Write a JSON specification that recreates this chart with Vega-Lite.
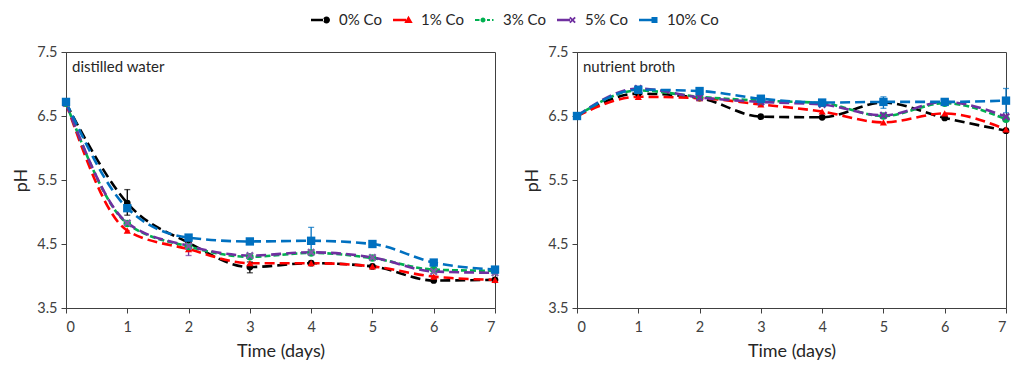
{
  "$schema": "https://vega.github.io/schema/vega-lite/v6.json",
  "background": "white",
  "padding": {"left": 12, "top": 9, "right": 0, "bottom": 0},
  "bounds": "flush",
  "spacing": 82,
  "config": {
    "font": "Lato",
    "view": {"stroke": "#404040", "strokeWidth": 1},
    "axis": {"grid": false, "domainColor": "#404040", "tickColor": "#404040", "labelColor": "#404040", "titleColor": "#262626", "labelFontSize": 14.5, "titleFontSize": 18, "titleFontWeight": "normal", "tickSize": 5, "labelPadding": 4, "labelFont": "Lato", "titleFont": "Lato"},
    "axisX": {"labelPadding": 7, "titlePadding": 9}
  },
  "data": {"values": [
    {"medium": "distilled water", "day": 0, "series": "0% Co", "ph": 6.70},
    {"medium": "distilled water", "day": 1, "series": "0% Co", "ph": 5.14, "lo": 4.95, "hi": 5.35},
    {"medium": "distilled water", "day": 2, "series": "0% Co", "ph": 4.52},
    {"medium": "distilled water", "day": 3, "series": "0% Co", "ph": 4.14, "lo": 4.05, "hi": 4.22},
    {"medium": "distilled water", "day": 4, "series": "0% Co", "ph": 4.20},
    {"medium": "distilled water", "day": 5, "series": "0% Co", "ph": 4.15},
    {"medium": "distilled water", "day": 6, "series": "0% Co", "ph": 3.93},
    {"medium": "distilled water", "day": 7, "series": "0% Co", "ph": 3.94},
    {"medium": "distilled water", "day": 0, "series": "1% Co", "ph": 6.70},
    {"medium": "distilled water", "day": 1, "series": "1% Co", "ph": 4.71},
    {"medium": "distilled water", "day": 2, "series": "1% Co", "ph": 4.42},
    {"medium": "distilled water", "day": 3, "series": "1% Co", "ph": 4.20},
    {"medium": "distilled water", "day": 4, "series": "1% Co", "ph": 4.20},
    {"medium": "distilled water", "day": 5, "series": "1% Co", "ph": 4.15},
    {"medium": "distilled water", "day": 6, "series": "1% Co", "ph": 3.99},
    {"medium": "distilled water", "day": 7, "series": "1% Co", "ph": 3.94},
    {"medium": "distilled water", "day": 0, "series": "3% Co", "ph": 6.70},
    {"medium": "distilled water", "day": 1, "series": "3% Co", "ph": 4.82},
    {"medium": "distilled water", "day": 2, "series": "3% Co", "ph": 4.46},
    {"medium": "distilled water", "day": 3, "series": "3% Co", "ph": 4.30},
    {"medium": "distilled water", "day": 4, "series": "3% Co", "ph": 4.36},
    {"medium": "distilled water", "day": 5, "series": "3% Co", "ph": 4.28},
    {"medium": "distilled water", "day": 6, "series": "3% Co", "ph": 4.10},
    {"medium": "distilled water", "day": 7, "series": "3% Co", "ph": 4.08},
    {"medium": "distilled water", "day": 0, "series": "5% Co", "ph": 6.70},
    {"medium": "distilled water", "day": 1, "series": "5% Co", "ph": 4.83},
    {"medium": "distilled water", "day": 2, "series": "5% Co", "ph": 4.47, "lo": 4.32, "hi": 4.62},
    {"medium": "distilled water", "day": 3, "series": "5% Co", "ph": 4.32},
    {"medium": "distilled water", "day": 4, "series": "5% Co", "ph": 4.37},
    {"medium": "distilled water", "day": 5, "series": "5% Co", "ph": 4.29},
    {"medium": "distilled water", "day": 6, "series": "5% Co", "ph": 4.07},
    {"medium": "distilled water", "day": 7, "series": "5% Co", "ph": 4.05},
    {"medium": "distilled water", "day": 0, "series": "10% Co", "ph": 6.72},
    {"medium": "distilled water", "day": 1, "series": "10% Co", "ph": 5.06},
    {"medium": "distilled water", "day": 2, "series": "10% Co", "ph": 4.60},
    {"medium": "distilled water", "day": 3, "series": "10% Co", "ph": 4.54},
    {"medium": "distilled water", "day": 4, "series": "10% Co", "ph": 4.55, "lo": 4.36, "hi": 4.76},
    {"medium": "distilled water", "day": 5, "series": "10% Co", "ph": 4.50},
    {"medium": "distilled water", "day": 6, "series": "10% Co", "ph": 4.21},
    {"medium": "distilled water", "day": 7, "series": "10% Co", "ph": 4.10},
    {"medium": "nutrient broth", "day": 0, "series": "0% Co", "ph": 6.50},
    {"medium": "nutrient broth", "day": 1, "series": "0% Co", "ph": 6.85},
    {"medium": "nutrient broth", "day": 2, "series": "0% Co", "ph": 6.78},
    {"medium": "nutrient broth", "day": 3, "series": "0% Co", "ph": 6.49},
    {"medium": "nutrient broth", "day": 4, "series": "0% Co", "ph": 6.48},
    {"medium": "nutrient broth", "day": 5, "series": "0% Co", "ph": 6.71},
    {"medium": "nutrient broth", "day": 6, "series": "0% Co", "ph": 6.47},
    {"medium": "nutrient broth", "day": 7, "series": "0% Co", "ph": 6.27},
    {"medium": "nutrient broth", "day": 0, "series": "1% Co", "ph": 6.50},
    {"medium": "nutrient broth", "day": 1, "series": "1% Co", "ph": 6.80},
    {"medium": "nutrient broth", "day": 2, "series": "1% Co", "ph": 6.78},
    {"medium": "nutrient broth", "day": 3, "series": "1% Co", "ph": 6.68},
    {"medium": "nutrient broth", "day": 4, "series": "1% Co", "ph": 6.57},
    {"medium": "nutrient broth", "day": 5, "series": "1% Co", "ph": 6.40},
    {"medium": "nutrient broth", "day": 6, "series": "1% Co", "ph": 6.54},
    {"medium": "nutrient broth", "day": 7, "series": "1% Co", "ph": 6.29},
    {"medium": "nutrient broth", "day": 0, "series": "3% Co", "ph": 6.50},
    {"medium": "nutrient broth", "day": 1, "series": "3% Co", "ph": 6.90},
    {"medium": "nutrient broth", "day": 2, "series": "3% Co", "ph": 6.80},
    {"medium": "nutrient broth", "day": 3, "series": "3% Co", "ph": 6.74},
    {"medium": "nutrient broth", "day": 4, "series": "3% Co", "ph": 6.70},
    {"medium": "nutrient broth", "day": 5, "series": "3% Co", "ph": 6.50},
    {"medium": "nutrient broth", "day": 6, "series": "3% Co", "ph": 6.70},
    {"medium": "nutrient broth", "day": 7, "series": "3% Co", "ph": 6.45},
    {"medium": "nutrient broth", "day": 0, "series": "5% Co", "ph": 6.50},
    {"medium": "nutrient broth", "day": 1, "series": "5% Co", "ph": 6.93},
    {"medium": "nutrient broth", "day": 2, "series": "5% Co", "ph": 6.79},
    {"medium": "nutrient broth", "day": 3, "series": "5% Co", "ph": 6.72},
    {"medium": "nutrient broth", "day": 4, "series": "5% Co", "ph": 6.68},
    {"medium": "nutrient broth", "day": 5, "series": "5% Co", "ph": 6.51},
    {"medium": "nutrient broth", "day": 6, "series": "5% Co", "ph": 6.72},
    {"medium": "nutrient broth", "day": 7, "series": "5% Co", "ph": 6.49},
    {"medium": "nutrient broth", "day": 0, "series": "10% Co", "ph": 6.50},
    {"medium": "nutrient broth", "day": 1, "series": "10% Co", "ph": 6.91},
    {"medium": "nutrient broth", "day": 2, "series": "10% Co", "ph": 6.89},
    {"medium": "nutrient broth", "day": 3, "series": "10% Co", "ph": 6.77},
    {"medium": "nutrient broth", "day": 4, "series": "10% Co", "ph": 6.71},
    {"medium": "nutrient broth", "day": 5, "series": "10% Co", "ph": 6.72, "lo": 6.62, "hi": 6.80},
    {"medium": "nutrient broth", "day": 6, "series": "10% Co", "ph": 6.72},
    {"medium": "nutrient broth", "day": 7, "series": "10% Co", "ph": 6.74, "lo": 6.55, "hi": 6.93}
  ]},
  "hconcat": [
    {
      "width": 429, "height": 256,
      "encoding": {
        "x": {"field": "day", "type": "quantitative", "scale": {"domain": [0, 7], "nice": false, "zero": false}, "axis": {"values": [0,1,2,3,4,5,6,7], "format": "d", "title": "Time (days)"}}
      },
      "layer": [
        {
          "transform": [{"filter": "datum.medium === 'distilled water'"}],
          "mark": {"type": "line", "interpolate": "monotone"},
          "encoding": {
            "y": {"field": "ph", "type": "quantitative", "title": "pH", "scale": {"domain": [3.5, 7.5], "nice": false, "zero": false}, "axis": {"values": [3.5,4.5,5.5,6.5,7.5], "format": ".1f", "titlePadding": 6}},
            "color": {"field": "series", "type": "nominal", "scale": {"domain": ["0% Co","1% Co","3% Co","5% Co","10% Co"], "range": ["#000000","#FF0000","#00B050","#7030A0","#0070C0"]}, "legend": null},
            "strokeDash": {"field": "series", "type": "nominal", "scale": {"domain": ["0% Co","1% Co","3% Co","5% Co","10% Co"], "range": [[10,5],[10,5],[6,3],[10,5],[10,5]]}, "legend": null},
            "strokeWidth": {"field": "series", "type": "nominal", "scale": {"domain": ["0% Co","1% Co","3% Co","5% Co","10% Co"], "range": [2.6,2.6,1.8,2.6,2.6]}, "legend": null}
          }
        },
        {
          "transform": [{"filter": "datum.medium === 'distilled water' && isValid(datum.lo)"}],
          "mark": {"type": "errorbar", "ticks": {"size": 6}, "thickness": 1.3},
          "encoding": {
            "y": {"field": "lo", "type": "quantitative", "title": "pH"},
            "y2": {"field": "hi"},
            "color": {"field": "series", "type": "nominal", "scale": {"domain": ["0% Co","1% Co","3% Co","5% Co","10% Co"], "range": ["#000000","#FF0000","#00B050","#7030A0","#0070C0"]}, "legend": null}
          }
        },
        {
          "transform": [{"filter": "datum.medium === 'distilled water'"}],
          "mark": {"type": "point", "filled": true, "opacity": 1},
          "encoding": {
            "y": {"field": "ph", "type": "quantitative", "title": "pH"},
            "color": {"field": "series", "type": "nominal", "scale": {"domain": ["0% Co","1% Co","3% Co","5% Co","10% Co"], "range": ["#000000","#FF0000","#00B050","#7F5FA8","#0070C0"]}, "legend": null},
            "shape": {"field": "series", "type": "nominal", "scale": {"domain": ["0% Co","1% Co","3% Co","5% Co","10% Co"], "range": ["circle","triangle-up","circle","M-1,-0.6L-0.6,-1L0,-0.4L0.6,-1L1,-0.6L0.4,0L1,0.6L0.6,1L0,0.4L-0.6,1L-1,0.6L-0.4,0Z","square"]}, "legend": null},
            "size": {"field": "series", "type": "nominal", "scale": {"domain": ["0% Co","1% Co","3% Co","5% Co","10% Co"], "range": [45,70,25,70,55]}, "legend": null}
          }
        },
        {
          "transform": [{"filter": "datum.medium === 'distilled water' && datum.day === 0 && datum.series === '0% Co'"}],
          "mark": {"type": "text", "align": "left", "baseline": "top", "dx": 6, "dy": 8, "fontSize": 15, "font": "Lato", "fill": "#262626"},
          "encoding": {
            "x": {"datum": 0},
            "y": {"datum": 7.5},
            "text": {"field": "medium"}
          }
        },
        {
          "transform": [{"filter": "datum.medium === 'distilled water'"}],
          "mark": {"type": "point", "filled": true, "opacity": 0},
          "encoding": {
            "y": {"field": "ph", "type": "quantitative", "title": "pH"},
            "color": {"field": "series", "type": "nominal", "scale": {"domain": ["0% Co","1% Co","3% Co","5% Co","10% Co"], "range": ["#000000","#FF0000","#00B050","#7030A0","#0070C0"]},
              "legend": {"orient": "none", "legendX": 245, "legendY": -42, "direction": "horizontal", "title": null, "symbolSize": 400, "symbolOpacity": 1, "symbolStrokeWidth": 0, "labelFontSize": 15, "labelFont": "Lato", "labelColor": "#262626", "columnPadding": 11, "labelOffset": 8}},
            "shape": {"field": "series", "type": "nominal",
              "scale": {"domain": ["0% Co","1% Co","3% Co","5% Co","10% Co"], "range": [
                "M-1,-0.13H0.3V0.13H-1Z M0.2,0A0.35,0.35 0 1,0 0.9,0A0.35,0.35 0 1,0 0.2,0Z",
                "M-1,-0.13H0.3V0.13H-1Z M0.55,-0.42L0.97,0.3L0.13,0.3Z",
                "M-1,-0.1H-0.55V0.1H-1Z M-0.45,0A0.25,0.25 0 1,0 0.05,0A0.25,0.25 0 1,0 -0.45,0Z M0.2,-0.1H0.5V0.1H0.2Z M0.7,-0.1H0.85V0.1H0.7Z",
                "M-1,-0.13H0.3V0.13H-1Z M0.22,-0.2L0.352,-0.33L0.55,-0.132L0.748,-0.33L0.88,-0.2L0.682,0L0.88,0.2L0.748,0.33L0.55,0.132L0.352,0.33L0.22,0.2L0.418,0Z",
                "M-1,-0.13H0.3V0.13H-1Z M0.25,-0.3H0.85V0.3H0.25Z"
              ]},
              "legend": {"orient": "none", "legendX": 245, "legendY": -42, "direction": "horizontal", "title": null, "symbolSize": 400, "symbolOpacity": 1, "symbolStrokeWidth": 0, "labelFontSize": 15, "labelFont": "Lato", "labelColor": "#262626", "columnPadding": 11, "labelOffset": 8}
            }
          }
        }
      ],
      "resolve": {"scale": {"shape": "independent", "color": "independent"}}
    },
    {
      "width": 429, "height": 256,
      "encoding": {
        "x": {"field": "day", "type": "quantitative", "scale": {"domain": [0, 7], "nice": false, "zero": false}, "axis": {"values": [0,1,2,3,4,5,6,7], "format": "d", "title": "Time (days)"}}
      },
      "layer": [
        {
          "transform": [{"filter": "datum.medium === 'nutrient broth'"}],
          "mark": {"type": "line", "interpolate": "monotone"},
          "encoding": {
            "y": {"field": "ph", "type": "quantitative", "title": "pH", "scale": {"domain": [3.5, 7.5], "nice": false, "zero": false}, "axis": {"values": [3.5,4.5,5.5,6.5,7.5], "format": ".1f", "titlePadding": 6}},
            "color": {"field": "series", "type": "nominal", "scale": {"domain": ["0% Co","1% Co","3% Co","5% Co","10% Co"], "range": ["#000000","#FF0000","#00B050","#7030A0","#0070C0"]}, "legend": null},
            "strokeDash": {"field": "series", "type": "nominal", "scale": {"domain": ["0% Co","1% Co","3% Co","5% Co","10% Co"], "range": [[10,5],[10,5],[6,3],[10,5],[10,5]]}, "legend": null},
            "strokeWidth": {"field": "series", "type": "nominal", "scale": {"domain": ["0% Co","1% Co","3% Co","5% Co","10% Co"], "range": [2.6,2.6,1.8,2.6,2.6]}, "legend": null}
          }
        },
        {
          "transform": [{"filter": "datum.medium === 'nutrient broth' && isValid(datum.lo)"}],
          "mark": {"type": "errorbar", "ticks": {"size": 6}, "thickness": 1.3},
          "encoding": {
            "y": {"field": "lo", "type": "quantitative", "title": "pH"},
            "y2": {"field": "hi"},
            "color": {"field": "series", "type": "nominal", "legend": null}
          }
        },
        {
          "transform": [{"filter": "datum.medium === 'nutrient broth'"}],
          "mark": {"type": "point", "filled": true, "opacity": 1},
          "encoding": {
            "y": {"field": "ph", "type": "quantitative", "title": "pH"},
            "color": {"field": "series", "type": "nominal", "legend": null},
            "shape": {"field": "series", "type": "nominal", "scale": {"domain": ["0% Co","1% Co","3% Co","5% Co","10% Co"], "range": ["circle","triangle-up","circle","M-1,-0.6L-0.6,-1L0,-0.4L0.6,-1L1,-0.6L0.4,0L1,0.6L0.6,1L0,0.4L-0.6,1L-1,0.6L-0.4,0Z","square"]}, "legend": null},
            "size": {"field": "series", "type": "nominal", "scale": {"domain": ["0% Co","1% Co","3% Co","5% Co","10% Co"], "range": [45,70,25,70,55]}, "legend": null}
          }
        },
        {
          "transform": [{"filter": "datum.medium === 'nutrient broth' && datum.day === 0 && datum.series === '0% Co'"}],
          "mark": {"type": "text", "align": "left", "baseline": "top", "dx": 6, "dy": 8, "fontSize": 15, "font": "Lato", "fill": "#262626"},
          "encoding": {
            "x": {"datum": 0},
            "y": {"datum": 7.5},
            "text": {"field": "medium"}
          }
        }
      ]
    }
  ]
}
